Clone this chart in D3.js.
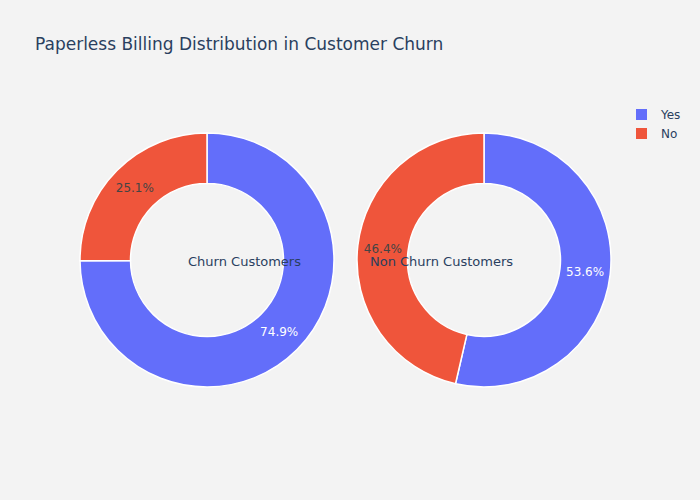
<!DOCTYPE html>
<html>
<head>
<meta charset="utf-8">
<script src="https://cdn.jsdelivr.net/npm/d3@7"></script>
<style>
html,body{margin:0;padding:0;background:#f3f3f3;}
svg{display:block;font-family:"DejaVu Sans",Verdana,sans-serif;}
</style>
</head>
<body>
<div id="chart"></div>
<script>
const categories = ["Yes", "No"];
const colors = ["#636efa", "#EF553B"];
const churnValues = [74.9, 25.1];
const nonChurnValues = [53.6, 46.4];
const groupNames = ["Churn Customers", "Non Churn Customers"];
const titleText = "Paperless Billing Distribution in Customer Churn";

const W = 700, H = 500;
const svg = d3.select("#chart").append("svg").attr("width", W).attr("height", H);
svg.append("rect").attr("width", W).attr("height", H).attr("fill", "#f3f3f3");

svg.append("text").attr("x", 35).attr("y", 50)
  .attr("font-size", 17).attr("fill", "#2a3f5f").text(titleText);

const color = d3.scaleOrdinal().domain(categories).range(colors);
const outerR = 127, innerR = 76.5;
const pies = [
  {values: churnValues, cx: 207, cy: 260, label: groupNames[0], lx: 244.5},
  {values: nonChurnValues, cx: 484, cy: 260, label: groupNames[1], lx: 441.5}
];

const pie = d3.pie().sort(null).value(d => d.v);
const arc = d3.arc().innerRadius(innerR).outerRadius(outerR);
const labelArc = d3.arc().innerRadius((innerR+outerR)/2).outerRadius((innerR+outerR)/2);

pies.forEach(p => {
  const data = categories.map((c, i) => ({c, v: p.values[i]}));
  const total = d3.sum(p.values);
  const g = svg.append("g").attr("transform", `translate(${p.cx},${p.cy})`);
  const arcs = pie(data);
  g.selectAll("path").data(arcs).join("path")
    .attr("d", arc).attr("fill", d => color(d.data.c))
    .attr("stroke", "#ffffff").attr("stroke-width", 1.5);
  g.selectAll("text").data(arcs).join("text")
    .attr("transform", d => `translate(${labelArc.centroid(d)})`)
    .attr("text-anchor", "middle").attr("dy", "0.35em")
    .attr("font-size", 12)
    .attr("fill", d => d.data.c === "Yes" ? "#ffffff" : "#444444")
    .text(d => (d.data.v / total * 100).toFixed(1) + "%");
  svg.append("text").attr("x", p.lx).attr("y", p.cy + 1.5).attr("dy", "0.35em")
    .attr("text-anchor", "middle").attr("font-size", 13).attr("fill", "#2a3f5f")
    .text(p.label);
});

const legend = svg.append("g").attr("transform", "translate(636,108)");
categories.forEach((c, i) => {
  const row = legend.append("g").attr("transform", `translate(0,${i*19})`);
  row.append("rect").attr("x", 0).attr("y", 1).attr("width", 11).attr("height", 11)
    .attr("fill", color(c));
  row.append("text").attr("x", 25).attr("y", 6.5).attr("dy", "0.35em")
    .attr("font-size", 12).attr("fill", "#2a3f5f").text(c);
});
</script>
</body>
</html>
